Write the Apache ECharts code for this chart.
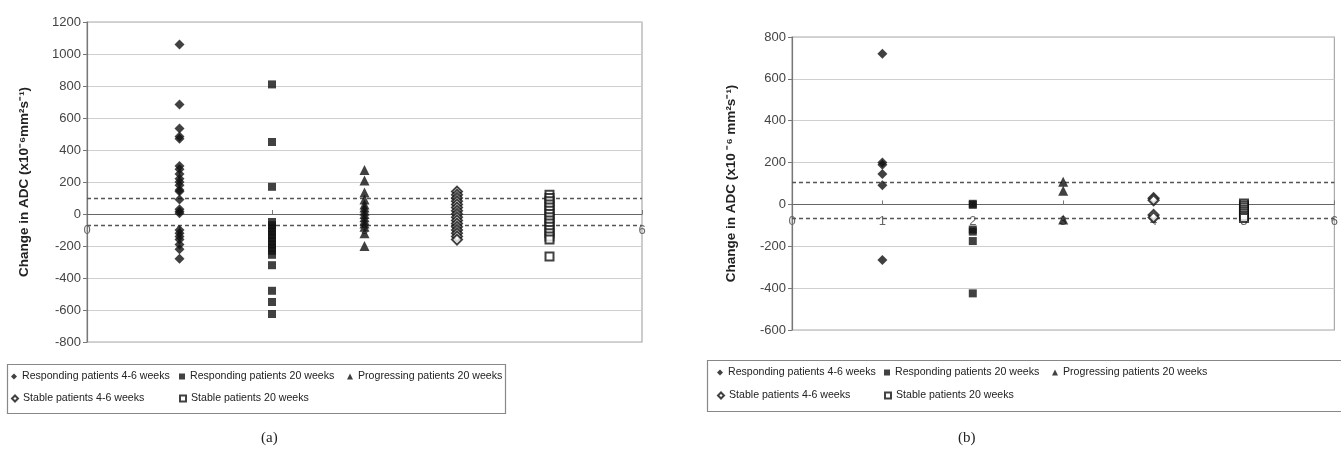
<!DOCTYPE html>
<html>
<head>
<meta charset="utf-8">
<script src="https://cdn.jsdelivr.net/npm/echarts@6/dist/echarts.min.js"></script>
<style>
  html, body { margin: 0; padding: 0; background: #fff; }
  #chart { width: 1341px; height: 450px; }
</style>
</head>
<body>
<div id="chart"></div>
<script>
// group names (legend)
var seriesNames = ['Responding patients 4-6 weeks', 'Responding patients 20 weeks',
  'Progressing patients 20 weeks', 'Stable patients 4-6 weeks', 'Stable patients 20 weeks'];
var groupX = [1, 2, 3, 4, 5];
var symbols = ['diamond', 'rect', 'triangle', 'emptyDiamond', 'emptyRect'];

// panel (a) values
var respEarlyA = [1060, 685, 535, 485, 470, 300, 280, 250, 220, 200, 180, 150, 140, 90, 30, 15, 5,
  -100, -120, -140, -160, -190, -220, -280];
var respLateA = [810, 450, 170, -50, -70, -90, -110, -130, -150, -170, -190, -210, -230, -255,
  -320, -480, -550, -625];
var progA = [275, 210, 135, 90, 60, 40, 20, 0, -20, -40, -60, -80, -120, -200];
var stableEarlyA = [140, 120, 100, 80, 60, 40, 20, 0, -20, -40, -60, -80, -100, -120, -140, -160];
var stableLateA = [120, 100, 80, 60, 40, 20, 0, -20, -40, -60, -80, -100, -120, -140, -160, -265];
var thresholdA = [100, -70];
var yRangeA = [-800, 1200];

// panel (b) values
var respEarlyB = [720, 200, 190, 145, 92, -265];
var respLateB = [3, -2, -120, -130, -175, -425];
var progB = [108, 65, -72];
var stableEarlyB = [30, 20, -50, -62];
var stableLateB = [5, -5, -15, -25, -35, -45, -55, -65];
var thresholdB = [108, -64];
var yRangeB = [-600, 800];

var yTitle = 'Change in ADC (x10\u207B\u2076mm\u00B2s\u207B\u00B9)';
var yTitleB = 'Change in ADC (x10 \u207B\u2076 mm\u00B2s\u207B\u00B9)';

var myChart = echarts.init(document.getElementById('chart'));

var gridA = { left: 87, top: 22, width: 555, height: 320 };
var gridB = { left: 792, top: 37, width: 545, height: 293 };

function makeSeries(groups, axisIdx, thresholds) {
  var out = [];
  for (var i = 0; i < groups.length; i++) {
    var s = {
      name: seriesNames[i],
      type: 'scatter',
      xAxisIndex: axisIdx,
      yAxisIndex: axisIdx,
      symbol: symbols[i],
      symbolSize: i == 1 || i == 4 ? 8 : 10,
      itemStyle: { color: '#111', borderColor: '#111', borderWidth: i >= 3 ? 1.2 : 0 },
      data: groups[i].map(function (v) { return [groupX[i], v]; }),
      z: 5
    };
    if (i == 0) {
      s.markLine = {
        silent: true,
        symbol: 'none',
        label: { show: false },
        lineStyle: { color: '#555', type: [4, 3], width: 1.3 },
        data: thresholds.map(function (t) { return { yAxis: t }; })
      };
    }
    out.push(s);
  }
  return out;
}

// x axis sits on the zero line of the value axis
function makeX(idx, grid, yRange) {
  return {
    type: 'value', gridIndex: idx, min: 0, max: 6, interval: 1,
    position: 'bottom',
    offset: -grid.height * (0 - yRange[0]) / (yRange[1] - yRange[0]),
    axisLine: { onZero: false, lineStyle: { color: '#666', width: 1.2 } },
    axisTick: { show: true, length: 4, inside: true, lineStyle: { color: '#777' } },
    axisLabel: { color: '#666', fontSize: 13, fontFamily: 'Liberation Sans', margin: 10 },
    splitLine: { show: false }
  };
}

function makeY(idx, yRange, name, gap) {
  return {
    type: 'value', gridIndex: idx, min: yRange[0], max: yRange[1], interval: 200,
    name: name, nameLocation: 'middle', nameGap: gap, nameRotate: 90,
    nameTextStyle: { color: '#222', fontSize: 13.5, fontWeight: 'bold', fontFamily: 'Liberation Sans' },
    axisLine: { show: true, lineStyle: { color: '#777', width: 1.2 } },
    axisTick: { show: true, length: 4, lineStyle: { color: '#777' } },
    axisLabel: { color: '#444', fontSize: 13, fontFamily: 'Liberation Sans', margin: 6,
      formatter: function (v) { return String(v); } },
    splitLine: { show: true, lineStyle: { color: '#cfcfcf', width: 1.2 } }
  };
}

// one legend per entry so the columns line up like the original
function makeLegends(xs, ys) {
  var pos = [[0, 0], [1, 0], [2, 0], [0, 1], [1, 1]];
  return seriesNames.map(function (n, i) {
    return {
      left: xs[pos[i][0]], top: ys[pos[i][1]] - 7, padding: 0,
      itemWidth: 6, itemHeight: 6, itemGap: 0,
      textStyle: { color: '#222', fontSize: 10.6, fontFamily: 'Liberation Sans' },
      selectedMode: false,
      data: [n]
    };
  });
}

var legendsA = makeLegends([11, 179, 347], [378, 400]);
var legendsB = makeLegends([717, 884, 1052], [374, 397]);

option = {
  backgroundColor: '#fff',
  animation: false,
  title: [
    { text: '(a)', left: 256, top: 426, textStyle: { fontFamily: 'Liberation Serif', fontWeight: 'normal', fontSize: 15, color: '#222' } },
    { text: '(b)', left: 953, top: 426, textStyle: { fontFamily: 'Liberation Serif', fontWeight: 'normal', fontSize: 15, color: '#222' } }
  ],
  graphic: [
    { type: 'rect', shape: { x: 7.5, y: 364.5, width: 498, height: 49 }, style: { fill: 'none', stroke: '#888', lineWidth: 1.2 } },
    { type: 'rect', shape: { x: 707.5, y: 360.5, width: 660, height: 51 }, style: { fill: 'none', stroke: '#888', lineWidth: 1.2 } }
  ],
  legend: legendsA.concat(legendsB),
  grid: [
    Object.assign({ show: true, borderColor: '#aaa', borderWidth: 1.2 }, gridA),
    Object.assign({ show: true, borderColor: '#aaa', borderWidth: 1.2 }, gridB)
  ],
  xAxis: [makeX(0, gridA, yRangeA), makeX(1, gridB, yRangeB)],
  yAxis: [makeY(0, yRangeA, yTitle, 56), makeY(1, yRangeB, yTitleB, 54)],
  series: makeSeries([respEarlyA, respLateA, progA, stableEarlyA, stableLateA], 0, thresholdA)
    .concat(makeSeries([respEarlyB, respLateB, progB, stableEarlyB, stableLateB], 1, thresholdB))
};
myChart.setOption(option);
</script>
</body>
</html>
